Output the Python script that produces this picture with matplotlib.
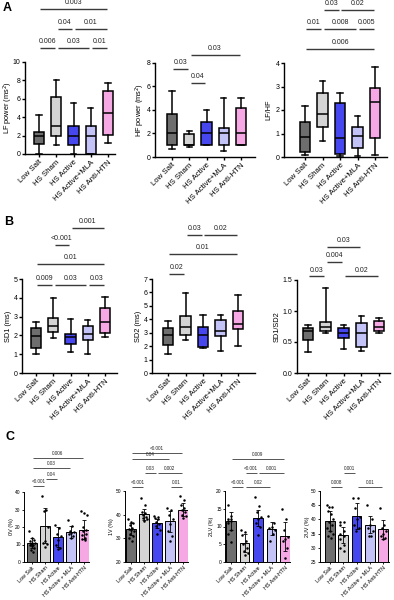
import matplotlib
matplotlib.use('Agg')
import matplotlib.pyplot as plt
import numpy as np

plt.rcParams['font.family'] = ['Liberation Sans', 'DejaVu Sans']

# ---------------- data ----------------
groups_ab = ["Low Salt", "HS Sham", "HS Active", "HS Active+MLA", "HS Anti-HTN"]
groups_c = ["Low Salt", "HS Sham", "HS Active", "HS Active + MLA", "HS Anti-HTN"]
colors = ["#6e6e6e", "#d4d4d4", "#4747f0", "#c3c3f7", "#f6a8e4"]

# box stats per group: [min, q1, median, q3, max]
lf_power = [[0.0, 1.1, 1.95, 2.4, 4.2], [1.0, 2.0, 3.0, 6.15, 8.0], [0.0, 1.0, 2.0, 3.0, 5.55],
            [0.0, 0.0, 2.0, 3.0, 5.0], [1.2, 2.1, 4.5, 6.9, 7.7]]
hf_power = [[0.68, 1.0, 2.0, 3.65, 5.55], [0.82, 1.0, 1.05, 1.95, 2.17], [1.0, 1.0, 2.0, 2.93, 4.0],
            [0.53, 1.0, 2.0, 2.45, 5.0], [1.0, 1.0, 2.0, 4.15, 5.0]]
lf_hf = [[0.08, 0.21, 0.83, 1.48, 2.15], [0.68, 1.26, 1.83, 2.72, 3.25], [0.03, 0.14, 0.81, 2.3, 2.72],
         [0.06, 0.37, 0.91, 1.26, 1.76], [0.08, 0.81, 2.34, 2.94, 3.84]]
sd1 = [[1.03, 1.31, 1.99, 2.41, 2.73], [1.88, 2.2, 2.5, 2.94, 3.97], [1.1, 1.54, 1.91, 2.06, 2.85],
       [1.03, 1.74, 2.07, 2.52, 2.82], [1.93, 2.11, 2.7, 3.48, 4.06]]
sd2 = [[1.44, 2.1, 2.8, 3.35, 3.87], [2.43, 2.85, 3.42, 4.27, 5.96], [1.84, 1.94, 2.83, 3.42, 4.29],
       [1.66, 2.78, 3.1, 3.97, 4.34], [2.03, 3.28, 3.67, 4.64, 5.78]]
sd_ratio = [[0.34, 0.53, 0.68, 0.73, 0.77], [0.64, 0.67, 0.74, 0.83, 1.37], [0.38, 0.56, 0.65, 0.72, 0.77],
            [0.36, 0.42, 0.65, 0.8, 0.92], [0.64, 0.67, 0.74, 0.84, 0.88]]

# panel C: means, SD and individual animals
v0_mean = [10.8, 20.6, 14.3, 17.0, 18.5]
v0_sd = [3.0, 10.0, 5.5, 3.5, 5.5]
v0_pts = [[18, 13.5, 12.5, 12, 11, 11, 10.5, 10, 9.5, 9, 8, 7, 6],
          [38, 30, 29, 20, 12, 11, 10.5, 8.5],
          [21, 19.5, 16, 15, 12.5, 10, 8, 7.5],
          [24, 20.5, 18, 17, 16.5, 16, 15, 13.5],
          [29, 28, 27, 20, 18.5, 17.5, 16, 15.5, 14, 13, 12.5]]
v1_mean = [33.8, 40.1, 36.3, 37.2, 42.1]
v1_sd = [2.5, 2.2, 2.0, 4.5, 2.7]
v1_pts = [[38, 37, 36.5, 35.5, 34.5, 34, 33.5, 33, 32, 31, 30, 29],
          [47, 44, 41, 40.5, 40, 39, 38.5, 38, 37.5],
          [39.5, 39, 38.5, 38, 37, 36, 35, 33.5, 32],
          [43, 42, 40, 38, 36, 33, 31, 29],
          [48, 46, 44, 43, 42, 41, 40, 39.5, 38.5]]
v2l_mean = [11.5, 5.3, 12.4, 9.4, 7.2]
v2l_sd = [2.6, 2.5, 2.3, 1.9, 4.2]
v2l_pts = [[16, 13, 12, 12, 11.5, 11.5, 11, 9, 8, 5.5],
           [9, 8.5, 7.5, 6, 5, 4, 3, 2.5, 2],
           [18.3, 15.8, 14, 12.8, 12, 11, 10, 7.5],
           [13, 11, 10, 9.5, 9, 8, 6],
           [15, 12, 9, 7, 6.5, 6, 4, 1]]
v2u_mean = [39.3, 34.4, 41.2, 38.1, 36.5]
v2u_sd = [3.5, 2.8, 4.7, 3.0, 3.3]
v2u_pts = [[45, 44.5, 44.5, 43, 42, 40, 39, 38, 37, 36, 35, 34, 33.5],
           [39, 39, 38, 36, 35, 34, 33, 31, 30, 29],
           [47.5, 47.5, 44, 41, 40, 38, 37, 36],
           [45, 40, 38, 37, 36, 34, 34],
           [44, 38, 37, 36, 35, 34, 33.5, 33]]

# significance comparisons: (group i, group j, p label)
lf_sig = [(1, 2, "0.006"), (2, 4, "0.03"), (4, 5, "0.01"), (2, 3, "0.04"), (3, 5, "0.01"), (1, 5, "0.003")]
hf_sig = [(2, 3, "0.04"), (1, 2, "0.03"), (2, 5, "0.03")]
lfhf_sig = [(1, 5, "0.006"), (1, 2, "0.01"), (2, 4, "0.008"), (4, 5, "0.005"), (2, 3, "0.03"), (3, 5, "0.02")]
sd1_sig = [(1, 2, "0.009"), (2, 4, "0.03"), (4, 5, "0.03"), (1, 5, "0.01"), (2, 3, "<0.001"), (3, 5, "0.001")]
sd2_sig = [(1, 2, "0.02"), (1, 5, "0.01"), (2, 3, "0.03"), (3, 5, "0.02")]
ratio_sig = [(1, 2, "0.03"), (3, 5, "0.02"), (2, 3, "0.004"), (2, 4, "0.03")]
v0_sig = [(1, 2, "<0.001"), (2, 3, "0.04"), (1, 4, "0.03"), (1, 5, "0.006")]
v1_sig = [(1, 2, "<0.001"), (4, 5, "0.01"), (2, 3, "0.03"), (3, 5, "0.002"), (1, 4, "0.04"), (1, 5, "<0.001")]
v2l_sig = [(1, 2, "<0.001"), (2, 4, "0.02"), (2, 3, "<0.001"), (3, 5, "0.001"), (1, 5, "0.009")]
v2u_sig = [(1, 2, "0.008"), (3, 5, "0.01"), (2, 3, "0.001")]

# ---------------- layout ----------------
W, H = 394, 600
fig = plt.figure(figsize=(W / 100, H / 100), dpi=100)

def make_ax(left, right, top, bottom, c1, c5, ylim, label_dx):
    ax = fig.add_axes([left / W, 1 - bottom / H, (right - left) / W, (bottom - top) / H])
    s = (c5 - c1) / 4
    ax.set_xlim(1 - (c1 - left) / s, 5 + (right - c5) / s)
    ax.set_ylim(*ylim)
    for sp in ['top', 'right']:
        ax.spines[sp].set_visible(False)
    ax.yaxis.set_label_coords(-label_dx / (right - left), 0.5)
    return ax

def sig(ax, comps, levels, fs, lw, off):
    for (i, j, lab), y in zip(comps, levels):
        ax.plot([i + 0.08, j - 0.08], [y, y], color='#3a3a3a', lw=lw, clip_on=False,
                solid_capstyle='butt')
        ax.annotate(lab, xy=((i + j) / 2, y), xytext=(0, off), textcoords='offset points',
                    ha='center', va='bottom', fontsize=fs, color='#222222', annotation_clip=False)

def box_panel(ax, stats, ylabel, yticks, yticklabels, comps, levels):
    bx = []
    for st in stats:
        bx.append(dict(whislo=st[0], q1=st[1], med=st[2], q3=st[3], whishi=st[4], fliers=[]))
    res = ax.bxp(bx, positions=[1, 2, 3, 4, 5], widths=0.6, capwidths=0.3, patch_artist=True,
                 showfliers=False,
                 boxprops=dict(linewidth=1.1, edgecolor='black'),
                 whiskerprops=dict(linewidth=1.1, color='black'),
                 capprops=dict(linewidth=1.1, color='black'),
                 medianprops=dict(linewidth=1.1, color='black'))
    for patch, c in zip(res['boxes'], colors):
        patch.set_facecolor(c)
    for sp in ['left', 'bottom']:
        ax.spines[sp].set_linewidth(1.0)
    ax.set_yticks(yticks)
    ax.set_yticklabels(yticklabels)
    ax.tick_params(axis='both', length=2.2, width=1.0, labelsize=5.0, pad=1.2)
    ax.set_xticks([1, 2, 3, 4, 5])
    ax.set_xticklabels(groups_ab, rotation=45, ha='right', rotation_mode='anchor', fontsize=5.6)
    ax.set_ylabel(ylabel, fontsize=5.3, va='center')
    sig(ax, comps, levels, 5.0, 1.0, 2.0)

def bar_panel(ax, means, sds, pts, ylabel, yticks, comps, levels, ylim):
    x = np.arange(1, 6)
    ax.bar(x, [m - ylim[0] for m in means], bottom=ylim[0], width=0.72, color=colors,
           edgecolor='black', linewidth=0.7, zorder=1)
    ax.errorbar(x, means, yerr=sds, fmt='none', ecolor='black', elinewidth=0.6, capsize=1.5,
                capthick=0.6, zorder=3)
    for k, vals in enumerate(pts):
        n = len(vals)
        offs = [(((m * 5) % n) / max(n - 1, 1) - 0.5) * 0.46 for m in range(n)]
        ax.scatter([k + 1 + o for o in offs], vals, s=3.2, color='black', zorder=4, linewidths=0)
    for sp in ['left', 'bottom']:
        ax.spines[sp].set_linewidth(0.7)
    ax.set_yticks(yticks)
    ax.tick_params(axis='both', length=1.6, width=0.6, labelsize=3.5, pad=0.8)
    ax.set_xticks(x)
    ax.set_xticklabels(groups_c, rotation=45, ha='right', rotation_mode='anchor', fontsize=3.9)
    ax.set_ylabel(ylabel, fontsize=3.9, va='center')
    sig(ax, comps, levels, 3.3, 0.6, 1.2)

# Panel A
ax = make_ax(25, 115, 62, 154, 39, 108, (0, 10), 17)
box_panel(ax, lf_power, "LF power (ms$^2$)", [0, 2, 4, 6, 8, 10], ["0", "2", "4", "6", "8", "10"],
          lf_sig, [11.5, 11.5, 11.5, 13.6, 13.6, 15.8])
ax = make_ax(155, 255, 62.5, 157, 172, 241, (0, 8), 15)
box_panel(ax, hf_power, "HF power (ms$^2$)", [0, 2, 4, 6, 8], ["0", "2", "4", "6", "8"],
          hf_sig, [6.27, 7.46, 8.64])
ax = make_ax(284, 387, 63, 157, 305, 375, (0, 4), 15)
box_panel(ax, lf_hf, "LF/HF", [0, 1, 2, 3, 4], ["0", "1", "2", "3", "4"],
          lfhf_sig, [4.6, 5.45, 5.45, 5.45, 6.26, 6.26])

# Panel B
ax = make_ax(22, 117, 279, 373, 36, 105, (0, 5), 14)
box_panel(ax, sd1, "SD1 (ms)", [0, 1, 2, 3, 4, 5], ["0", "1", "2", "3", "4", "5"],
          sd1_sig, [4.68, 4.68, 4.68, 5.8, 6.8, 7.7])
ax = make_ax(152, 255, 279, 373, 168, 238, (0, 7), 14)
box_panel(ax, sd2, "SD2 (ms)", [0, 1, 2, 3, 4, 5, 6, 7], ["0", "1", "2", "3", "4", "5", "6", "7"],
          sd2_sig, [7.37, 8.87, 10.3, 10.3])
ax = make_ax(297, 390, 280, 373, 308, 379, (0, 1.5), 20)
box_panel(ax, sd_ratio, "SD1/SD2", [0, 0.5, 1.0, 1.5], ["0.0", "0.5", "1.0", "1.5"],
          ratio_sig, [1.56, 1.56, 1.79, 2.03])

# Panel C
ax = make_ax(24, 89, 492, 562, 32, 84, (0, 40), 13)
bar_panel(ax, v0_mean, v0_sd, v0_pts, "0V (%)", [0, 10, 20, 30, 40], v0_sig,
          [43.4, 47.4, 53.7, 59.4], (0, 40))
ax = make_ax(125, 188, 491, 562, 131, 183, (20, 50), 13)
bar_panel(ax, v1_mean, v1_sd, v1_pts, "1V (%)", [20, 30, 40, 50], v1_sig,
          [51.7, 51.7, 57.6, 57.6, 63.5, 66.0], (20, 50))
ax = make_ax(225, 290, 491, 562, 231, 285, (0, 20), 13)
bar_panel(ax, v2l_mean, v2l_sd, v2l_pts, "2LV (%)", [0, 5, 10, 15, 20], v2l_sig,
          [21.1, 21.1, 25.1, 25.1, 29.0], (0, 20))
ax = make_ax(320, 389, 491, 562, 330, 383, (25, 50), 13)
bar_panel(ax, v2u_mean, v2u_sd, v2u_pts, "2UV (%)", [25, 30, 35, 40, 45, 50], v2u_sig,
          [51.4, 51.4, 56.3], (25, 50))

# panel letters
fig.text(3 / W, 1 - 2 / H, "A", fontsize=9, fontweight='bold', va='top', ha='left')
fig.text(4 / W, 1 - 216 / H, "B", fontsize=9, fontweight='bold', va='top', ha='left')
fig.text(5 / W, 1 - 431 / H, "C", fontsize=9, fontweight='bold', va='top', ha='left')

fig.savefig("out.png", dpi=100)
